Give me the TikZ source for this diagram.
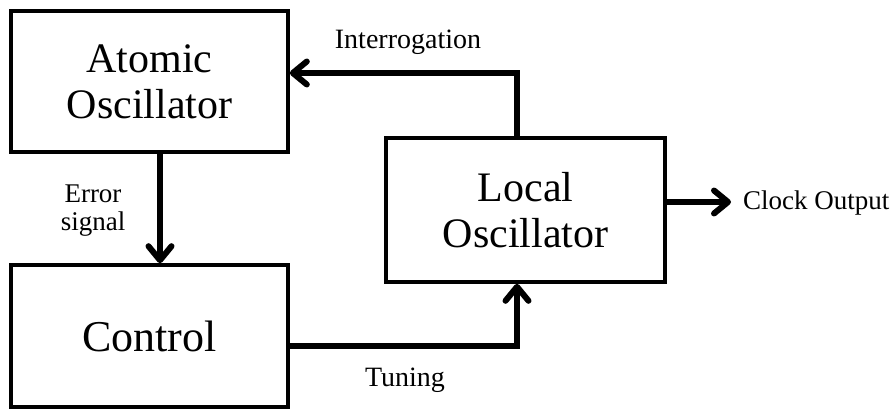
\documentclass[tikz,border=0pt]{standalone}
\usepackage{fontspec}
\setmainfont{Liberation Serif}
\usetikzlibrary{arrows.meta}
\begin{document}
\begin{tikzpicture}[x=1pt,y=-1pt,
  block/.style={draw, line width=3.6pt, rectangle, align=center, inner sep=0pt,
                font=\fontsize{42}{46}\selectfont},
  flow/.style={line width=6pt, line cap=round, line join=miter,
               -{Straight Barb[length=14pt,width=23pt,round]}},
  tag/.style={font=\fontsize{28}{30}\selectfont, align=center, inner sep=0pt}]
  \useasboundingbox (0,0) rectangle (896,409);

  % blocks
  \node[block, minimum width=277pt, minimum height=141pt] (atomic) at (149.5,81.5) {Atomic\\Oscillator};
  \node[block, minimum width=277pt, minimum height=142pt, font=\fontsize{44}{46}\selectfont] (control) at (149.5,336) {Control};
  \node[block, minimum width=279pt, minimum height=144pt] (local) at (525.5,210) {Local\\Oscillator};

  % routing points
  \coordinate (errx) at (160,0);
  \coordinate (loop) at (517,73);
  \coordinate (tune) at (517,346);
  \coordinate (clk) at (731,202);

  % connectors
  \draw[flow] (atomic.south -| errx) -- (control.north -| errx);
  \draw[flow] (local.north -| loop) |- (atomic.east |- loop);
  \draw[flow] (control.east |- tune) -| (local.south -| tune);
  \draw[flow] (local.east |- clk) -- (clk);

  % labels
  \node[tag] (lint) at (408,42) {Interrogation};
  \node[tag, font=\fontsize{27}{28}\selectfont] (lerr) at (93,211) {Error\\signal};
  \node[tag] (ltune) at (405,380) {Tuning};
  \node[tag, anchor=west, font=\fontsize{27}{30}\selectfont] (lclk) at (743,203) {Clock Output};
\end{tikzpicture}
\end{document}
